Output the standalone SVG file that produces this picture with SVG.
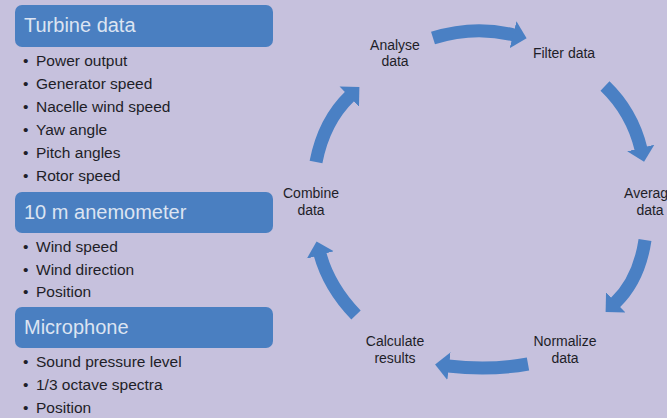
<svg xmlns="http://www.w3.org/2000/svg" width="667" height="418" viewBox="0 0 667 418">
  <style>
    .bg { fill: #c6c1dd; }
    .box { fill: #4a7fc1; }
    .title { font-family: "Liberation Sans", Arial, sans-serif; font-size: 20px; fill: #dce4f2; }
    .item { font-family: "Liberation Sans", Arial, sans-serif; font-size: 15.5px; fill: #1e1e28; }
    .label { font-family: "Liberation Sans", Arial, sans-serif; font-size: 14px; fill: #1e1e28; text-anchor: middle; }
    .arrow { fill: none; stroke: #4a80c4; stroke-width: 13; stroke-linecap: butt; marker-end: url(#head); }
  </style>
  <defs>
    <marker id="head" markerUnits="userSpaceOnUse" markerWidth="16" markerHeight="30" refX="1" refY="15" orient="auto">
      <path d="M0,1 L14,15 L0,29 Z" fill="#4a80c4"/>
    </marker>
  </defs>

  <rect class="bg" x="0" y="0" width="667" height="418"/>

  <!-- Data sources -->
  <g id="turbine-data">
    <rect class="box" x="15" y="5" width="258" height="42" rx="7"/>
    <text class="title" x="24" y="32">Turbine data</text>
    <text class="item"><tspan x="23" y="65.5">•</tspan><tspan x="36" y="65.5">Power output</tspan></text>
    <text class="item"><tspan x="23" y="88.5">•</tspan><tspan x="36" y="88.5">Generator speed</tspan></text>
    <text class="item"><tspan x="23" y="111.5">•</tspan><tspan x="36" y="111.5">Nacelle wind speed</tspan></text>
    <text class="item"><tspan x="23" y="134.5">•</tspan><tspan x="36" y="134.5">Yaw angle</tspan></text>
    <text class="item"><tspan x="23" y="157.5">•</tspan><tspan x="36" y="157.5">Pitch angles</tspan></text>
    <text class="item"><tspan x="23" y="180.5">•</tspan><tspan x="36" y="180.5">Rotor speed</tspan></text>
  </g>

  <g id="anemometer">
    <rect class="box" x="15" y="192" width="258" height="41" rx="7"/>
    <text class="title" x="24" y="219">10 m anemometer</text>
    <text class="item"><tspan x="23" y="252">•</tspan><tspan x="36" y="252">Wind speed</tspan></text>
    <text class="item"><tspan x="23" y="274.5">•</tspan><tspan x="36" y="274.5">Wind direction</tspan></text>
    <text class="item"><tspan x="23" y="297">•</tspan><tspan x="36" y="297">Position</tspan></text>
  </g>

  <g id="microphone">
    <rect class="box" x="15" y="307" width="258" height="41" rx="7"/>
    <text class="title" x="24" y="334">Microphone</text>
    <text class="item"><tspan x="23" y="367">•</tspan><tspan x="36" y="367">Sound pressure level</tspan></text>
    <text class="item"><tspan x="23" y="389.5">•</tspan><tspan x="36" y="389.5">1/3 octave spectra</tspan></text>
    <text class="item"><tspan x="23" y="412.5">•</tspan><tspan x="36" y="412.5">Position</tspan></text>
  </g>

  <!-- Processing cycle steps -->
  <g id="analyse">
    <text class="label" x="395" y="50">Analyse</text>
    <text class="label" x="395" y="66">data</text>
  </g>
  <g id="filter">
    <text class="label" x="564" y="58">Filter data</text>
  </g>
  <g id="average">
    <text class="label" x="650" y="198">Average</text>
    <text class="label" x="650" y="215">data</text>
  </g>
  <g id="normalize">
    <text class="label" x="565" y="346">Normalize</text>
    <text class="label" x="565" y="363">data</text>
  </g>
  <g id="calculate">
    <text class="label" x="395" y="346">Calculate</text>
    <text class="label" x="395" y="363">results</text>
  </g>
  <g id="combine">
    <text class="label" x="311" y="198">Combine</text>
    <text class="label" x="311" y="215">data</text>
  </g>

  <!-- Cycle arrows -->
  <g id="connectors">
    <path class="arrow" d="M433,38 Q474,25 514,35"/>
    <path class="arrow" d="M605,86 Q632,112 641,149"/>
    <path class="arrow" d="M645,240 Q639,280 615,303"/>
    <path class="arrow" d="M528,364 Q490,371 448,366"/>
    <path class="arrow" d="M356,315 Q329,287 320,254"/>
    <path class="arrow" d="M316,162 Q324,121 350,96"/>
  </g>
</svg>
